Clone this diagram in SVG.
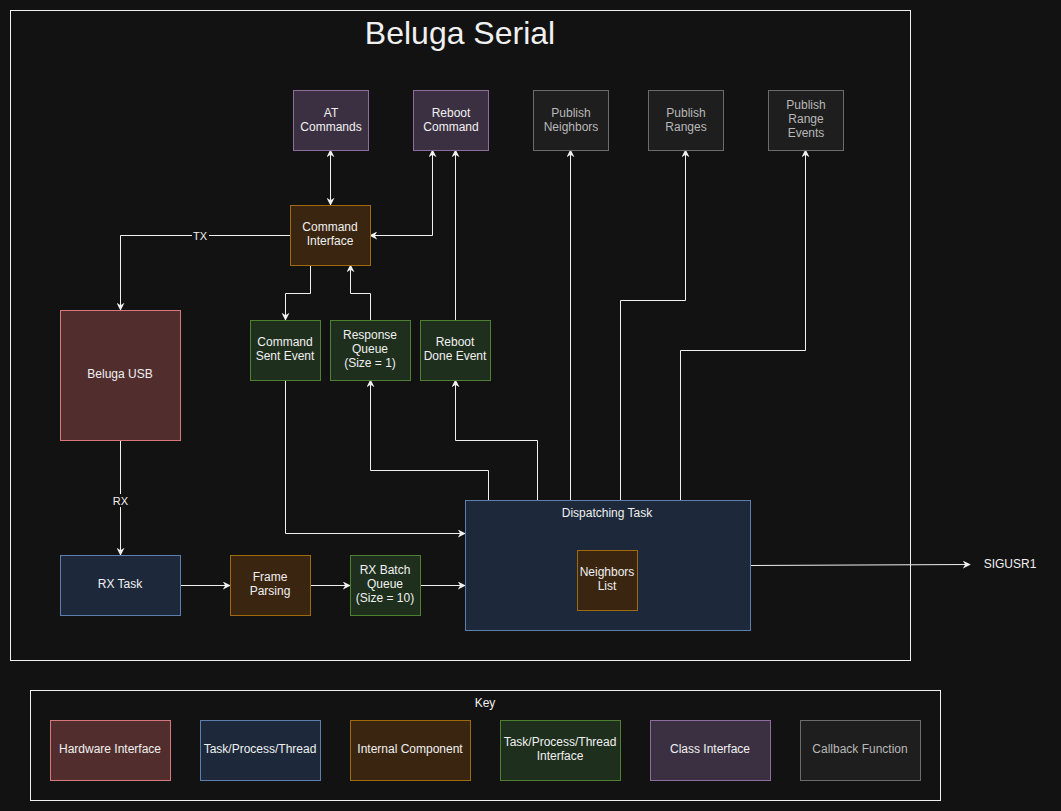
<svg xmlns="http://www.w3.org/2000/svg" width="1061" height="811" viewBox="0 0 1061 811">
<style>
text{font-family:"Liberation Sans",Arial,sans-serif;font-size:12px;fill:#f0f0f0;text-anchor:middle}
.hw{fill:#512e2d;stroke:#d9787a}
.task{fill:#1d293b;stroke:#5d7fae}
.comp{fill:#3a2610;stroke:#a0690a}
.itf{fill:#1f2f1e;stroke:#4f8030}
.cls{fill:#3b3042;stroke:#8e6c9c}
.cb{fill:#1e1e1e;stroke:#6b6b6b}
.cbt{fill:#b8b8b8}
.frame{fill:none;stroke:#f0f0f0}
.c{fill:none;stroke:#f0f0f0;stroke-width:1}
</style>
<defs>
<marker id="ah" viewBox="0 0 10 10" refX="9" refY="5" markerWidth="8" markerHeight="8" markerUnits="userSpaceOnUse" orient="auto-start-reverse">
<path d="M0,0 L10,5 L0,10 L3,5 Z" fill="#f0f0f0"/>
</marker>
</defs>
<rect width="1061" height="811" fill="#121212"/>
<rect class="frame" x="10.5" y="10.5" width="900" height="650"/>
<text x="460" y="44" style="font-size:32px">Beluga Serial</text>
<rect class="frame" x="30.5" y="690.5" width="910" height="110"/>
<text x="485" y="707">Key</text>

<g id="connectors">
<path class="c" d="M330.5,150 V205" marker-start="url(#ah)" marker-end="url(#ah)"/>
<path class="c" d="M432.5,150 V235.5 H370" marker-start="url(#ah)" marker-end="url(#ah)"/>
<path class="c" d="M455.5,320 V150" marker-end="url(#ah)"/>
<path class="c" d="M290,235.5 H120.5 V310" marker-end="url(#ah)"/>
<rect x="192" y="229" width="17" height="13" fill="#121212"/>
<text x="200" y="239.5" style="font-size:11px">TX</text>
<path class="c" d="M310.5,265 V293.5 H285.5 V320" marker-end="url(#ah)"/>
<path class="c" d="M370.5,320 V293.5 H350.5 V265" marker-end="url(#ah)"/>
<path class="c" d="M120.5,440 V555" marker-end="url(#ah)"/>
<rect x="112" y="494" width="17" height="13" fill="#121212"/>
<text x="120.5" y="504.5" style="font-size:11px">RX</text>
<path class="c" d="M180,585.5 H230" marker-end="url(#ah)"/>
<path class="c" d="M310,585.5 H350" marker-end="url(#ah)"/>
<path class="c" d="M420,585.5 H465" marker-end="url(#ah)"/>
<path class="c" d="M285.5,380 V533.5 H465" marker-end="url(#ah)"/>
<path class="c" d="M488.5,500 V470.5 H370.5 V380" marker-end="url(#ah)"/>
<path class="c" d="M537.5,500 V440.5 H455.5 V380" marker-end="url(#ah)"/>
<path class="c" d="M570.5,500 V150" marker-end="url(#ah)"/>
<path class="c" d="M620.5,500 V300.5 H685.5 V150" marker-end="url(#ah)"/>
<path class="c" d="M680.5,500 V350.5 H805.5 V150" marker-end="url(#ah)"/>
<path class="c" d="M750,565.5 L970,564.5" marker-end="url(#ah)"/>
</g>

<g id="at-commands"><rect class="cls" x="293.5" y="90.5" width="75" height="60"/><text x="331" y="117">AT</text><text x="331" y="131">Commands</text></g>
<g id="reboot-command"><rect class="cls" x="413.5" y="90.5" width="75" height="60"/><text x="451" y="117">Reboot</text><text x="451" y="131">Command</text></g>
<g id="publish-neighbors"><rect class="cb" x="533.5" y="90.5" width="75" height="60"/><text class="cbt" x="571" y="117">Publish</text><text class="cbt" x="571" y="131">Neighbors</text></g>
<g id="publish-ranges"><rect class="cb" x="648.5" y="90.5" width="75" height="60"/><text class="cbt" x="686" y="117">Publish</text><text class="cbt" x="686" y="131">Ranges</text></g>
<g id="publish-range-events"><rect class="cb" x="768.5" y="90.5" width="75" height="60"/><text class="cbt" x="806" y="109">Publish</text><text class="cbt" x="806" y="123">Range</text><text class="cbt" x="806" y="137">Events</text></g>
<g id="command-interface"><rect class="comp" x="290.5" y="205.5" width="80" height="60"/><text x="330" y="231">Command</text><text x="330" y="245">Interface</text></g>
<g id="beluga-usb"><rect class="hw" x="60.5" y="310.5" width="120" height="130"/><text x="120" y="378">Beluga USB</text></g>
<g id="command-sent-event"><rect class="itf" x="250.5" y="320.5" width="70" height="60"/><text x="285" y="346">Command</text><text x="285" y="360">Sent Event</text></g>
<g id="response-queue"><rect class="itf" x="330.5" y="320.5" width="80" height="60"/><text x="370" y="339">Response</text><text x="370" y="353">Queue</text><text x="370" y="367">(Size = 1)</text></g>
<g id="reboot-done-event"><rect class="itf" x="420.5" y="320.5" width="70" height="60"/><text x="455" y="346">Reboot</text><text x="455" y="360">Done Event</text></g>
<g id="rx-task"><rect class="task" x="60.5" y="555.5" width="120" height="60"/><text x="120" y="588">RX Task</text></g>
<g id="frame-parsing"><rect class="comp" x="230.5" y="555.5" width="80" height="60"/><text x="270" y="581">Frame</text><text x="270" y="595">Parsing</text></g>
<g id="rx-batch-queue"><rect class="itf" x="350.5" y="555.5" width="70" height="60"/><text x="385" y="574">RX Batch</text><text x="385" y="588">Queue</text><text x="385" y="602">(Size = 10)</text></g>
<g id="dispatching-task"><rect class="task" x="465.5" y="500.5" width="285" height="130"/><text x="607" y="517">Dispatching Task</text></g>
<g id="neighbors-list"><rect class="comp" x="577.5" y="550.5" width="60" height="60"/><text x="607" y="576">Neighbors</text><text x="607" y="590">List</text></g>
<g id="sigusr1"><text x="1010" y="568">SIGUSR1</text></g>

<g id="key-hardware"><rect class="hw" x="50.5" y="720.5" width="120" height="60"/><text x="110" y="753">Hardware Interface</text></g>
<g id="key-task"><rect class="task" x="200.5" y="720.5" width="120" height="60"/><text x="260" y="753">Task/Process/Thread</text></g>
<g id="key-component"><rect class="comp" x="350.5" y="720.5" width="120" height="60"/><text x="410" y="753">Internal Component</text></g>
<g id="key-interface"><rect class="itf" x="500.5" y="720.5" width="120" height="60"/><text x="560" y="746">Task/Process/Thread</text><text x="560" y="760">Interface</text></g>
<g id="key-class"><rect class="cls" x="650.5" y="720.5" width="120" height="60"/><text x="710" y="753">Class Interface</text></g>
<g id="key-callback"><rect class="cb" x="800.5" y="720.5" width="120" height="60"/><text class="cbt" x="860" y="753">Callback Function</text></g>
</svg>
